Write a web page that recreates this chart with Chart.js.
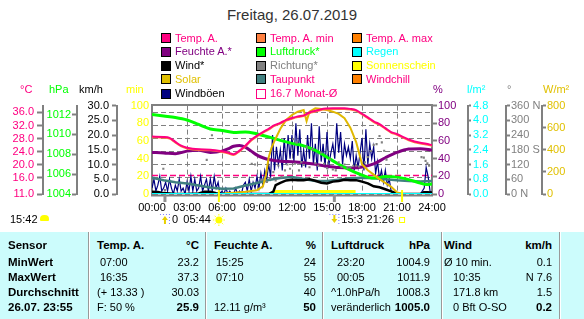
<!DOCTYPE html>
<html>
<head>
<meta charset="utf-8">
<title>Wetter 26.07.2019</title>
<script src="https://cdn.jsdelivr.net/npm/chart.js@4.4.1/dist/chart.umd.min.js"></script>
<style>
  html, body { margin: 0; padding: 0; }
  body { width: 584px; height: 319px; position: relative; overflow: hidden; background: #fff;
         font-family: "Liberation Sans", Arial, sans-serif; font-size: 11px; }
  .t { position: absolute; white-space: nowrap; line-height: 13px; }
  .box { position: absolute; width: 8px; height: 8px; border: 1px solid #000; }
  #title { position: absolute; left: 0; top: 6px; width: 584px; text-align: center; font-size: 15px; color: #333; }
  #chartWrap { position: absolute; left: 0; top: 96px; width: 584px; height: 134px; }
  #table { position: absolute; left: 0; top: 232px; width: 584px; height: 87px; background: #ccfcfc; }
  .sep { position: absolute; top: 232px; width: 1px; height: 87px; background: #999; border-right: 1px solid #fff; }
  #cloud { position: absolute; left: 40px; top: 215px; width: 9px; height: 6px; background: #ffff00; border-radius: 4px 4px 1px 1px; }
</style>
</head>
<body>
<div id="title">Freitag, 26.07.2019</div>
<div id="table"></div>
<div id="chartWrap"><canvas id="weatherChart" width="584" height="134"></canvas></div>
<div id="cloud"></div>
<script>
// ---- data (hours of the day) ----
const tempHours = [0,1,1.5,2,2.5,3,4,5,6,6.5,7,7.5,8,8.5,9,9.5,10,10.5,11,11.5,12,12.5,13,13.5,14,14.5,15,15.5,16,16.5,17,17.5,18,18.5,19,19.5,20,20.5,21,21.5,22,22.5,23,23.5,24];
const tempValues = [28.6,28.5,28.2,27.0,25.8,25.2,24.7,24.6,24.1,23.7,23.2,24.3,25.8,27.6,28.9,30.0,31.0,32.1,32.8,33.7,34.3,34.8,35.1,36.0,36.5,37.0,37.2,37.3,37.3,37.3,37.1,36.7,35.6,34.5,33.3,32.4,31.2,30.0,29.4,28.5,27.7,27.1,26.7,26.4,26.0];
const tempMinValues = [28.3,28.2,27.9,26.7,25.5,24.9,24.4,24.3,23.8,23.4,22.9,24.0,25.5,27.3,28.6,29.7,30.7,31.8,32.5,33.4,34.0,34.5,34.8,35.7,36.2,36.7,36.9,37.0,37.0,37.0,36.8,36.4,35.3,34.2,33.0,32.1,30.9,29.7,29.1,28.2,27.4,26.8,26.4,26.1,25.7];

const pressHours = [0,1,2,3,4,5,6,7,8,9,10,11,12,13,14,15,16,17,18,19,20,21,22,23,23.5,24];
const pressValues = [1012.0,1011.85,1011.7,1011.45,1011.0,1010.55,1010.4,1010.2,1010.25,1010.05,1009.75,1009.4,1009.1,1008.85,1008.4,1007.7,1007.0,1006.4,1005.9,1005.6,1005.75,1005.7,1005.45,1005.1,1004.95,1005.0];

const humHours = [0,1,2,3,4,5,6,6.5,7,7.5,8,8.5,9,9.5,10,11,12,13,14,15,16,17,18,19,20,21,22,23,24];
const humValues = [47,46.5,45.5,48.5,49.5,47,48.5,51,54,55,53,48.5,44,41,39,37,36.5,35.5,33.5,31.5,30,29.5,30.5,34,41,47,50.8,51.3,49.6];

const dewHours = [0,1,2,3,4,5,6,7,8,9,10,11,12,13,14,15,16,17,18,19,20,21,22,23,24];
const dewValues = [16.0,15.2,14.6,14.2,13.6,13.0,12.6,12.7,13.6,14.4,15.3,15.9,16.2,15.6,15.0,15.0,15.4,15.8,16.0,15.8,15.5,15.2,15.0,14.8,15.0];

const solarHours = [0,6,6.5,7,8,9,9.5,9.75,10,10.25,10.5,11,11.5,12,12.5,13,13.25,13.5,14,14.5,15,15.5,16,16.5,17,17.5,17.75,18,18.5,19,19.5,20,20.5,21,21.5,24];
const solarValues = [0,0,8,12,20,33,70,160,330,420,480,590,670,715,745,760,660,745,775,770,760,745,725,685,600,470,370,270,215,175,135,100,65,15,0,0];

const windHours = [0,0.5,1,2,3,4,4.5,5,5.5,6,10,10.4,10.6,11,11.5,12,12.5,13,13.5,14,14.5,15,15.5,16,16.5,17,17.5,18,18.5,19,19.5,20,20.5,21,21.3,23,23.3,23.6,24];
const windValues = [0.8,0.7,0.3,0,0,0.2,0.8,0.8,0.3,0,0,0.8,3,3.8,4.6,4.8,4.7,4.7,5,4.5,3.8,3.6,4.2,4.4,4.8,4.7,4.7,4.2,3.6,2.6,2.3,1.6,0.9,0.2,0,0,0.6,0.6,0.5];

// gusts, one value every 10 minutes (6 per hour)
const gustValues = [
  2,5,1,3,6,1,  2,4,1,5,2,0,  3,1,5,1,2,0,  4,1,6,1,5,1,
  2,6,1,3,5,1,  5,1,6,2,4,0,  1,0,2,0,1,0,  0,2,0,1,0,3,
  4,1,5,1,4,2,  6,2,7,3,8,5,  10,6,20,8,16,10,  15,8,19,10,20,12,
  20,11,24,13,22,9,  15,9,20,12,24,10,  17,8,23,11,17,9,  21,10,14,17,12,24,
  14,21,10,17,13,16,  12,18,8,13,9,14,  19,8,22,10,17,12,  16,7,11,5,8,4,
  8,3,5,1,0,0,  0,0,0,0,0,0,  0,0,0,0,0,0,  0,1,2,9,6,1,
  0
];

const dirHours = [0.97,1.11,4.69,5.14,8.55,8.83,9.4,9.55,9.7,9.85,10.1,10.4,10.6,10.83,11.1,11.4,11.6,11.83,12.1,12.25,12.4,12.6,12.8,13.0,13.25,13.5,13.75,14.0,14.25,14.5,14.75,15.0,15.25,15.5,15.75,16.0,16.25,16.5,16.75,17.0,17.25,17.5,17.75,18.0,18.25,18.5,18.75,19.0,19.25,19.5,19.7,19.9,20.1,23.1,23.3,23.45,23.6,23.75];
const dirValues = [103,16,139,239,123,120,58,60,52,49,62,89,55,116,70,96,120,103,223,123,209,96,130,118,190,109,183,125,115,169,123,105,140,100,96,129,110,120,105,109,115,116,112,125,129,150,175,200,203,236,210,176,140,150,148,135,125,115];

const sunHours = [0,10.45,10.45,17.45,17.45,24];
const sunMinutes = [0,0,4.5,4.5,0,0];
const rainHours = [0,24];
const rainValues = [0,0];
const monthAvg = 16.7;

const sunEvents = [5.733, 21.433];   // 05:44, 21:26
const sunTimes = ['05:44', '21:26'];
const moonEvents = [1.11, 15.63];
const moonTimes = ['0', '15:3'];

// tick labels
const hourTicks = [0,3,6,9,12,15,18,21,24];
const tempTicks = [11,16,20,24,28,32,36];
const pressTicks = [1004,1006,1008,1010,1012];
const speedTicks = [0,5,10,15,20,25,30];
const sunTicks = [0,20,40,60,80,100];
const humTicks = [0,20,40,60,80,100];
const rainTicks = [0,0.8,1.6,2.4,3.2,4.0,4.8];
const dirTicks = [0,60,120,180,240,300,360];
const solarTicks = [0,200,400,600,800];

const legendItems = [
  ['Temp. A.', '#ff0080', '#ff0080'], ['Temp. A. min', '#ff8040', '#ff0080'], ['Temp. A. max', '#ff8000', '#ff0080'],
  ['Feuchte A.*', '#800080', '#800080'], ['Luftdruck*', '#00ff00', '#00ff00'], ['Regen', '#00ffff', '#00ffff'],
  ['Wind*', '#000000', '#000000'], ['Richtung*', '#808080', '#808080'], ['Sonnenschein', '#ffff00', '#ffff00'],
  ['Solar', '#e0c000', '#e0c000'], ['Taupunkt', '#408080', '#ff0080'], ['Windchill', '#ff8000', '#ff0080'],
  ['Windböen', '#000080', '#000000'], ['16.7 Monat-Ø', null, '#ff0080']
];

const tableRows = [
  ['Sensor', 'Temp. A.', '°C', 'Feuchte A.', '%', 'Luftdruck', 'hPa', 'Wind', 'km/h'],
  ['MinWert', '07:00', '23.2', '15:25', '24', '23:20', '1004.9', 'Ø 10 min.', '0.1'],
  ['MaxWert', '16:35', '37.3', '07:10', '55', '00:05', '1011.9', '10:35', 'N 7.6'],
  ['Durchschnitt', '(+ 13.33 )', '30.03', '', '40', '^1.0hPa/h', '1008.3', '171.8 km', '1.5'],
  ['26.07. 23:55', 'F: 50 %', '25.9', '12.11 g/m³', '50', 'veränderlich', '1005.0', '0 Bft O-SO', '0.2']
];

// ---- helpers for the html parts ----
function addText(text, x, cy, opts = {}) {
  const el = document.createElement('div');
  el.className = 't';
  el.textContent = text;
  const size = opts.size || 11;
  el.style.fontSize = size + 'px';
  el.style.top = (cy - 6.4) + 'px';
  if (opts.right) {
    el.style.right = (584 - x) + 'px';
  } else {
    el.style.left = x + 'px';
  }
  if (opts.bold) el.style.fontWeight = 'bold';
  el.style.color = opts.color || '#000';
  document.body.appendChild(el);
  return el;
}

// legend (3 columns, 5 rows)
const legendCols = [161, 256, 352];
const legendRows = [38.3, 51.8, 65.5, 79.3, 93.5];
legendItems.forEach((item, i) => {
  const col = i % 3, row = Math.floor(i / 3);
  const bx = document.createElement('div');
  bx.className = 'box';
  bx.style.left = legendCols[col] + 'px';
  bx.style.top = (legendRows[row] - 5) + 'px';
  if (item[1]) {
    bx.style.background = item[1];
  } else {
    bx.style.background = '#fff';
    bx.style.borderColor = '#ff0080';
  }
  document.body.appendChild(bx);
  addText(item[0], legendCols[col] + 14, legendRows[row], { color: item[2] });
});

// unit headers over the axes
[['°C', 20, '#ff0080'], ['hPa', 49, '#00ff00'], ['km/h', 79, '#000'], ['min', 126, '#ffff00'],
 ['%', 433, '#800080'], ['l/m²', 467, '#00ffff'], ['°', 507, '#808080'], ['W/m²', 543, '#e0c000']]
  .forEach(u => addText(u[0], u[1], 89, { color: u[2] }));

addText('15:42', 10, 219);

// table
const rowY = [245.5, 262.5, 277, 292.5, 307.5];
const labelX = [8, 97, 214, 331, 444];
const valueX = [199, 316, 430, 552];
[88, 205, 322, 441, 559].forEach(x => {
  const s = document.createElement('div');
  s.className = 'sep';
  s.style.left = x + 'px';
  document.body.appendChild(s);
});
tableRows.forEach((r, ri) => {
  const last = ri === tableRows.length - 1;
  addText(r[0], labelX[0], rowY[ri], { bold: true, size: 11.5 });
  for (let c = 0; c < 4; c++) {
    let lx = labelX[c + 1];
    if (ri === 1 || ri === 2) lx += (c === 0 ? 3 : c === 1 ? 2 : c === 2 ? 6 : ri === 2 ? 9 : 0);
    if (ri === 3 || ri === 4) lx += (c === 3 ? 9 : 0);
    addText(r[1 + c * 2], lx, rowY[ri], { bold: ri === 0, size: ri === 0 ? 11.5 : 11 });
    addText(r[2 + c * 2], valueX[c], rowY[ri], { right: true, bold: ri === 0 || last, size: (ri === 0 || last) ? 11.5 : 11 });
  }
});

// ---- chart ----
const pts = (xs, ys) => xs.map((x, i) => ({ x: x, y: ys[i] }));
const gustPts = gustValues.map((v, i) => ({ x: i / 6, y: v }));

Chart.defaults.font.family = '"Liberation Sans", Arial, sans-serif';
Chart.defaults.font.size = 11;

function yAxis(pos, weight, width, min, max, ticksArr, color, tickLength, padding, fmt) {
  return {
    type: 'linear', position: pos, weight: weight, min: min, max: max,
    afterFit: s => { s.width = width; },
    afterBuildTicks: s => { s.ticks = ticksArr.map(v => ({ value: v })); },
    ticks: { color: color, padding: padding, autoSkip: false, callback: fmt },
    grid: { drawOnChartArea: false, drawTicks: tickLength > 0, tickLength: tickLength, tickColor: '#808080', tickWidth: 2, color: '#808080' },
    border: { display: true, color: '#808080', width: 2 }
  };
}

const tempAxis = yAxis('left', 3, 43, 11, 38.1, tempTicks, '#ff0080', 6, 3, v => v.toFixed(1));
tempAxis.grid.drawOnChartArea = true;
tempAxis.grid.lineWidth = 1;
tempAxis.border.dash = [5, 3];

const extras = {
  id: 'extras',
  afterDatasetsDraw(chart) {
    const { ctx, chartArea: a, scales: { x } } = chart;
    ctx.save();
    ctx.strokeStyle = '#808080';
    ctx.lineWidth = 2;
    ctx.beginPath();
    ctx.moveTo(a.left - 1, a.top - 0.5);
    ctx.lineTo(a.right + 1, a.top - 0.5);
    ctx.moveTo(a.left - 1, a.bottom + 1.5);
    ctx.lineTo(a.right + 1, a.bottom + 1.5);
    ctx.stroke();

    const iy = a.bottom + 26;
    ctx.font = '11px "Liberation Sans", Arial, sans-serif';
    ctx.textBaseline = 'middle';

    // moon rise / set
    moonEvents.forEach((h, i) => {
      const px = x.getPixelForValue(h);
      ctx.strokeStyle = '#909090';
      ctx.lineWidth = 3;
      ctx.beginPath();
      ctx.moveTo(px, a.bottom + 1);
      ctx.lineTo(px, a.bottom + 8);
      ctx.stroke();
      ctx.fillStyle = '#8080ff';
      for (let k = 0; k < 4; k++) {
        ctx.fillRect(px - 5 + k * 3, iy - 6, 1, 1);
        ctx.fillRect(px + 4, iy - 6 + k * 3, 1, 1);
      }
      ctx.fillStyle = '#e8d000';
      ctx.beginPath();
      if (i === 0) {
        ctx.moveTo(px - 3, iy); ctx.lineTo(px, iy - 4); ctx.lineTo(px + 3, iy);
        ctx.fill();
        ctx.fillRect(px - 1, iy, 2, 4);
      } else {
        ctx.moveTo(px - 3, iy - 1); ctx.lineTo(px, iy + 3); ctx.lineTo(px + 3, iy - 1);
        ctx.fill();
        ctx.fillRect(px - 1, iy - 5, 2, 4);
      }
      ctx.fillStyle = '#000';
      ctx.textAlign = 'left';
      ctx.fillText(moonTimes[i], px + 7, iy);
    });

    // sun rise / set
    sunEvents.forEach((h, i) => {
      const px = x.getPixelForValue(h);
      ctx.strokeStyle = '#ffff00';
      ctx.lineWidth = 2;
      ctx.beginPath();
      ctx.moveTo(px, a.bottom - 4);
      ctx.lineTo(px, a.bottom + 8);
      ctx.stroke();
      if (i === 0) {
        ctx.fillStyle = '#ffff00';
        ctx.beginPath();
        ctx.arc(px, iy, 3.5, 0, Math.PI * 2);
        ctx.fill();
        ctx.lineWidth = 1;
        for (let k = 0; k < 8; k++) {
          const ang = k * Math.PI / 4;
          ctx.beginPath();
          ctx.moveTo(px + Math.cos(ang) * 4.5, iy + Math.sin(ang) * 4.5);
          ctx.lineTo(px + Math.cos(ang) * 6, iy + Math.sin(ang) * 6);
          ctx.stroke();
        }
      } else {
        ctx.lineWidth = 1;
        ctx.strokeRect(px - 2.5, iy - 2.5, 5, 5);
      }
      ctx.fillStyle = '#000';
      ctx.textAlign = 'right';
      ctx.fillText(sunTimes[i], px - 8, iy);
    });
    ctx.restore();
  }
};

const ctx = document.getElementById('weatherChart').getContext('2d');
const chart = new Chart(ctx, {
  type: 'line',
  data: {
    datasets: [
      { label: 'Regen', data: pts(rainHours, rainValues), yAxisID: 'yRain', borderColor: '#00ffff', borderWidth: 2 },
      { label: 'Temp. A.', data: pts(tempHours, tempValues), yAxisID: 'yTemp', borderColor: '#ff0080', borderWidth: 2, cubicInterpolationMode: 'monotone' },
      { label: 'Temp. A. min', data: pts(tempHours, tempMinValues), yAxisID: 'yTemp', borderColor: '#ff8040', borderWidth: 1.5, cubicInterpolationMode: 'monotone' },
      { label: 'Solar', data: pts(solarHours, solarValues), yAxisID: 'ySolar', borderColor: '#e0b800', borderWidth: 2 },
      { label: 'Wind*', data: pts(windHours, windValues), yAxisID: 'ySpeed', borderColor: '#000000', borderWidth: 2.5 },
      { label: 'Richtung*', data: pts(dirHours, dirValues), yAxisID: 'yDir', showLine: false, pointRadius: 1.5, pointStyle: 'rect', pointBackgroundColor: '#808080', pointBorderWidth: 0 },
      { label: 'Luftdruck*', data: pts(pressHours, pressValues), yAxisID: 'yPress', borderColor: '#00ff00', borderWidth: 3, cubicInterpolationMode: 'monotone' },
      { label: 'Feuchte A.*', data: pts(humHours, humValues), yAxisID: 'yHum', borderColor: '#800080', borderWidth: 3, cubicInterpolationMode: 'monotone' },
      { label: 'Taupunkt', data: pts(dewHours, dewValues), yAxisID: 'yTemp', borderColor: '#408080', borderWidth: 2.5 },
      { label: 'Windböen', data: gustPts, yAxisID: 'ySpeed', borderColor: '#000080', borderWidth: 1.2 },
      { label: '16.7 Monat-Ø', data: pts([0, 24], [monthAvg, monthAvg]), yAxisID: 'yTemp', borderColor: '#ff0080', borderWidth: 1.5, borderDash: [6, 3] },
      { label: 'Sonnenschein', data: pts(sunHours, sunMinutes), yAxisID: 'yMin', borderWidth: 0, fill: 'origin', backgroundColor: '#ffff00' }
    ]
  },
  options: {
    responsive: false,
    animation: false,
    elements: { point: { radius: 0 }, line: { tension: 0 } },
    layout: { padding: { top: 8, bottom: 18, left: 0, right: 0 } },
    plugins: { legend: { display: false }, tooltip: { enabled: false } },
    scales: {
      x: {
        type: 'linear', min: 0, max: 24,
        afterFit: s => { s.height = 18; },
        afterBuildTicks: s => { s.ticks = hourTicks.map(v => ({ value: v })); },
        ticks: { color: '#000', padding: 7, maxRotation: 0, autoSkip: false,
                 callback: v => String(v).padStart(2, '0') + ':00' },
        grid: { color: '#808080', drawTicks: false, lineWidth: 1 },
        border: { display: false, dash: [5, 3] }
      },
      yMin: yAxis('left', 0, 35, 0, 100, sunTicks, '#ffff00', 0, 3, v => String(v)),
      ySpeed: yAxis('left', 1, 40, 0, 30, speedTicks, '#000000', 5, 3, v => v.toFixed(1)),
      yPress: yAxis('left', 2, 34, 1004, 1012.9, pressTicks, '#00ff00', 5, 1, v => String(v)),
      yTemp: tempAxis,
      yHum: yAxis('right', 0, 36, 0, 100, humTicks, '#800080', 5, 1, v => String(v)),
      yRain: yAxis('right', 1, 38, 0, 4.8, rainTicks, '#00ffff', 3, 2, v => v.toFixed(1)),
      yDir: yAxis('right', 2, 36, 0, 360, dirTicks, '#808080', 4, 1,
                  v => v === 360 ? '360 N' : v === 180 ? '180 S' : v === 0 ? '0 N' : String(v)),
      ySolar: yAxis('right', 3, 42, 0, 800, solarTicks, '#e0c000', 4, 1, v => String(v))
    }
  },
  plugins: [extras]
});
</script>
</body>
</html>
